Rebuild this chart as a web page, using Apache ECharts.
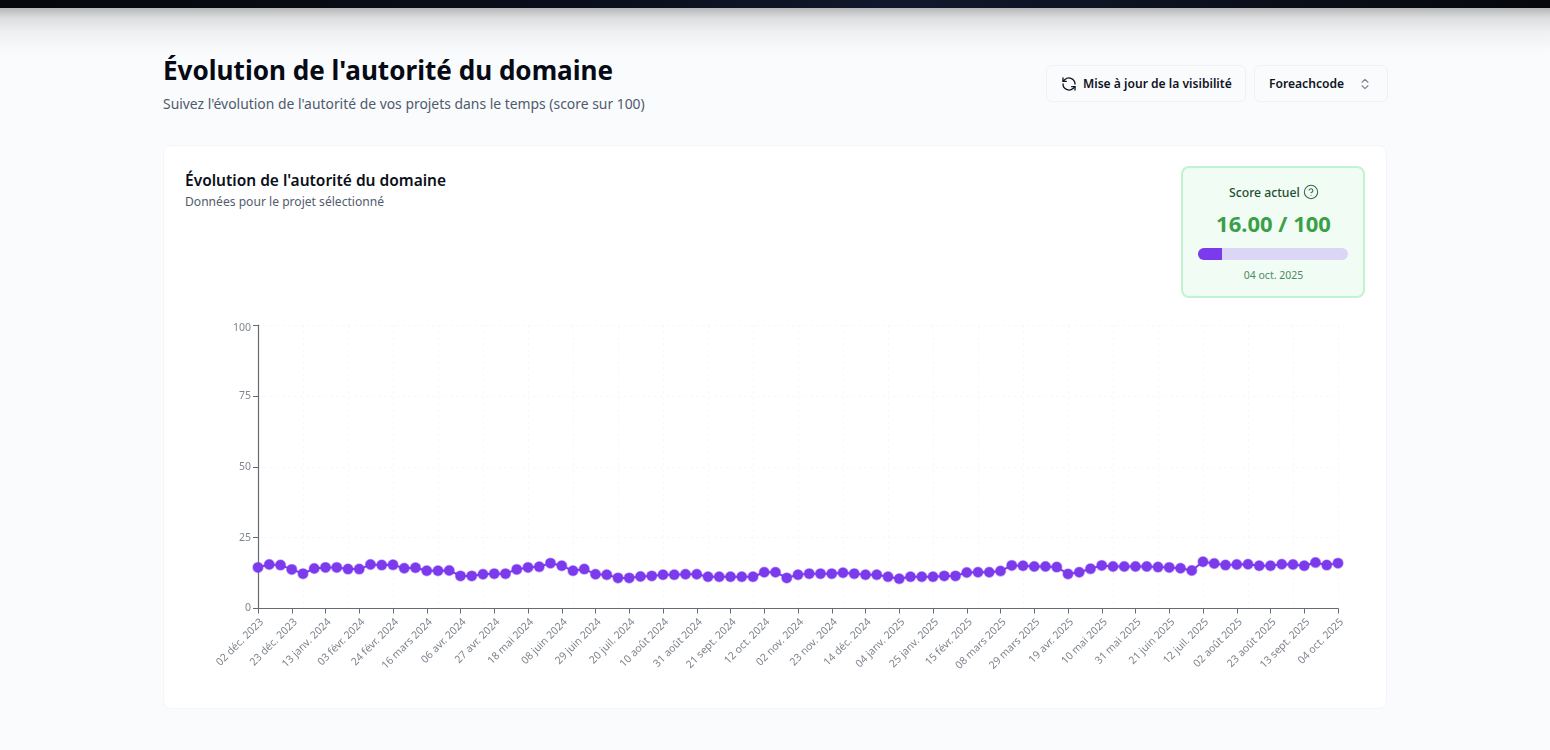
<!DOCTYPE html>
<html lang="fr">
<head>
<meta charset="utf-8">
<title>Évolution de l'autorité du domaine</title>
<script src="https://cdn.jsdelivr.net/npm/echarts@6/dist/echarts.min.js"></script>
<style>
  html, body { margin: 0; padding: 0; width: 1550px; height: 750px; overflow: hidden; background: #f9fbfd; font-family: "Noto Sans", sans-serif; color: #0b0f19; }
  body { position: relative; }
  .abs { position: absolute; white-space: nowrap; }
  #navbar { left: 0; top: 0; width: 1550px; height: 8px; background: linear-gradient(90deg, #05070c 0%, #0a0f1c 40%, #10192c 58%, #05070c 100%); }
  #navshadow { left: 0; top: 8px; width: 1550px; height: 46px; background: linear-gradient(180deg, #b4b6b8 0%, #dcdee0 22%, #eff1f3 55%, #f9fbfd 100%); }
  #pagetitle { left: 163px; top: 51px; font-size: 26.1px; font-weight: 700; line-height: 38px; color: #060a14; }
  #pagesub { left: 163px; top: 94px; font-size: 13.9px; line-height: 20px; color: #4f5a6b; }
  .btn { background: #fafbfd; border: 1px solid #eff1f5; border-radius: 6px; box-sizing: border-box; height: 37px; top: 65px; font-size: 12.1px; font-weight: 600; line-height: 36px; color: #10141e; }
  #refresh { left: 1046px; width: 200px; }
  #refresh span { position: absolute; left: 36px; }
  #refresh svg { position: absolute; left: 14px; top: 10px; }
  #project { left: 1254px; width: 134px; }
  #project span { position: absolute; left: 14px; }
  #project svg { position: absolute; left: 103px; top: 11px; }
  #card { left: 163px; top: 145px; width: 1224px; height: 564px; box-sizing: border-box; background: #fff; border: 1px solid #f3f5f8; border-radius: 8px; }
  #cardtitle { left: 185px; top: 169px; font-size: 15.5px; font-weight: 600; line-height: 22px; color: #0b0f19; }
  #cardsub { left: 185px; top: 193px; font-size: 12.1px; line-height: 18px; color: #525c6b; }
  #scorebox { left: 1181px; top: 166px; width: 184px; height: 132px; box-sizing: border-box; background: #f1fcf4; border: 2px solid #c2f3d0; border-radius: 8px; }
  #scorelabel { left: 1229px; top: 184px; font-size: 12.2px; font-weight: 500; line-height: 18px; color: #1d4f31; }
  #scorehelp { left: 1303px; top: 184px; }
  #scorevalue { left: 1182px; width: 183px; top: 208px; text-align: center; font-size: 22px; font-weight: 700; line-height: 30px; color: #39a048; }
  #scoretrack { left: 1198px; top: 248px; width: 150px; height: 12px; border-radius: 6px; background: #dcd6f6; overflow: hidden; }
  #scorefill { height: 100%; background: #7c3aed; }
  #scoredate { left: 1182px; width: 183px; top: 267px; text-align: center; font-size: 10.5px; line-height: 16px; color: #4c8a62; }
  #chart { left: 200px; top: 310px; width: 1170px; height: 390px; }
</style>
</head>
<body>
<div class="abs" id="navbar"></div>
<div class="abs" id="navshadow"></div>
<div class="abs" id="pagetitle">Évolution de l'autorité du domaine</div>
<div class="abs" id="pagesub">Suivez l'évolution de l'autorité de vos projets dans le temps (score sur 100)</div>
<div class="abs btn" id="refresh">
  <svg width="16" height="16" viewBox="0 0 24 24" fill="none" stroke="#10141e" stroke-width="2" stroke-linecap="round" stroke-linejoin="round"><path d="M21 12a9 9 0 0 0-15-6.7L3 8"/><path d="M3 3v5h5"/><path d="M3 12a9 9 0 0 0 15 6.7l3-2.7"/><path d="M16 16h5v5"/></svg>
  <span>Mise à jour de la visibilité</span>
</div>
<div class="abs btn" id="project">
  <span>Foreachcode</span>
  <svg width="14" height="14" viewBox="0 0 24 24" fill="none" stroke="#7d8490" stroke-width="2" stroke-linecap="round" stroke-linejoin="round"><path d="m7 15 5 5 5-5"/><path d="m7 9 5-5 5 5"/></svg>
</div>
<div class="abs" id="card"></div>
<div class="abs" id="cardtitle">Évolution de l'autorité du domaine</div>
<div class="abs" id="cardsub">Données pour le projet sélectionné</div>
<div class="abs" id="scorebox"></div>
<div class="abs" id="scorelabel">Score actuel</div>
<svg class="abs" id="scorehelp" width="16" height="16" viewBox="0 0 24 24" fill="none" stroke="#3a6a4c" stroke-width="1.6" stroke-linecap="round" stroke-linejoin="round"><circle cx="12" cy="12" r="10"/><path d="M9.1 9a3 3 0 0 1 5.8 1c0 2-3 3-3 3"/><path d="M12 17h.01"/></svg>
<div class="abs" id="scorevalue"></div>
<div class="abs" id="scoretrack"><div id="scorefill"></div></div>
<div class="abs" id="scoredate"></div>
<div class="abs" id="chart"></div>

<script>
// Relevés hebdomadaires du score d'autorité
const weekLabels = [
  "02 déc. 2023","09 déc. 2023","16 déc. 2023","23 déc. 2023","30 déc. 2023",
  "06 janv. 2024","13 janv. 2024","20 janv. 2024","27 janv. 2024",
  "03 févr. 2024","10 févr. 2024","17 févr. 2024","24 févr. 2024",
  "02 mars 2024","09 mars 2024","16 mars 2024","23 mars 2024","30 mars 2024",
  "06 avr. 2024","13 avr. 2024","20 avr. 2024","27 avr. 2024",
  "04 mai 2024","11 mai 2024","18 mai 2024","25 mai 2024",
  "01 juin 2024","08 juin 2024","15 juin 2024","22 juin 2024","29 juin 2024",
  "06 juil. 2024","13 juil. 2024","20 juil. 2024","27 juil. 2024",
  "03 août 2024","10 août 2024","17 août 2024","24 août 2024","31 août 2024",
  "07 sept. 2024","14 sept. 2024","21 sept. 2024","28 sept. 2024",
  "05 oct. 2024","12 oct. 2024","19 oct. 2024","26 oct. 2024",
  "02 nov. 2024","09 nov. 2024","16 nov. 2024","23 nov. 2024","30 nov. 2024",
  "07 déc. 2024","14 déc. 2024","21 déc. 2024","28 déc. 2024",
  "04 janv. 2025","11 janv. 2025","18 janv. 2025","25 janv. 2025",
  "01 févr. 2025","08 févr. 2025","15 févr. 2025","22 févr. 2025",
  "01 mars 2025","08 mars 2025","15 mars 2025","22 mars 2025","29 mars 2025",
  "05 avr. 2025","12 avr. 2025","19 avr. 2025","26 avr. 2025",
  "03 mai 2025","10 mai 2025","17 mai 2025","24 mai 2025","31 mai 2025",
  "07 juin 2025","14 juin 2025","21 juin 2025","28 juin 2025",
  "05 juil. 2025","12 juil. 2025","19 juil. 2025","26 juil. 2025",
  "02 août 2025","09 août 2025","16 août 2025","23 août 2025","30 août 2025",
  "06 sept. 2025","13 sept. 2025","20 sept. 2025","27 sept. 2025",
  "04 oct. 2025"
];

const authorityScores = [
  14.5,15.5,15.3,13.8,12.3,14.1,14.5,14.5,13.9,13.9,
  15.5,15.3,15.4,14.2,14.4,13.3,13.3,13.4,11.5,11.5,
  12.1,12.3,12.3,13.8,14.5,14.7,16.0,15.1,13.3,13.9,
  12.1,11.9,10.8,10.8,11.3,11.5,11.9,11.9,12.1,12.1,
  11.2,11.2,11.2,11.2,11.2,12.8,12.8,10.8,11.9,12.3,
  12.3,12.3,12.6,12.3,11.9,11.9,11.2,10.5,11.2,11.2,
  11.2,11.5,11.5,12.7,12.8,12.8,13.2,15.2,15.1,14.8,
  14.8,14.6,12.2,12.8,14.0,15.2,14.8,14.8,14.8,14.8,
  14.6,14.5,14.2,13.4,16.5,15.9,15.3,15.5,15.6,15.1,
  15.1,15.6,15.5,15.1,16.2,15.3,16.0
];

const scoreTicks = [0, 25, 50, 75, 100];
const scoreMax = scoreTicks[scoreTicks.length - 1];
const accent = "#7c3aed";
const axisGrey = "#666b73";
const labelGrey = "#7f858e";
const gridDash = { color: "#f7f8fa", width: 1, type: [3, 3] };

// Carte « Score actuel » : dernière valeur de la série
const latestScore = authorityScores[authorityScores.length - 1];
document.getElementById("scorevalue").textContent = latestScore.toFixed(2) + " / " + scoreMax;
document.getElementById("scorefill").style.width = (latestScore / scoreMax * 100) + "%";
document.getElementById("scoredate").textContent = weekLabels[weekLabels.length - 1];

const chart = echarts.init(document.getElementById("chart"), null, { renderer: "canvas" });
chart.setOption({
  animation: false,
  grid: { left: 58, right: 32, top: 15, bottom: 91.5 },
  xAxis: {
    type: "category",
    data: weekLabels,
    boundaryGap: false,
    axisLine: { lineStyle: { color: axisGrey, width: 1.2 } },
    axisTick: { show: true, length: 5, interval: 2, alignWithLabel: true, lineStyle: { color: axisGrey } },
    axisLabel: {
      interval: 2, rotate: 45, margin: 8, verticalAlign: "top", color: labelGrey,
      fontSize: 10.5, fontFamily: "Noto Sans", hideOverlap: false
    },
    splitLine: { show: true, interval: (i) => i % 4 === 0, lineStyle: gridDash }
  },
  yAxis: {
    type: "value",
    min: 0,
    max: scoreMax,
    interval: 25,
    axisLine: { show: true, lineStyle: { color: axisGrey, width: 1.2 } },
    axisTick: { show: true, length: 5, lineStyle: { color: axisGrey } },
    axisLabel: {
      margin: 7, color: labelGrey, fontSize: 10.5, fontFamily: "Noto Sans",
      // le libellé du haut descend sous sa graduation
      formatter: (v) => v === scoreMax ? "{top|" + v + "}" : String(v),
      rich: { top: { padding: [6, 0, 0, 0], color: labelGrey, fontSize: 10.5, fontFamily: "Noto Sans" } }
    },
    splitLine: { show: true, lineStyle: gridDash }
  },
  series: [{
    type: "line",
    data: authorityScores,
    symbol: "circle",
    symbolSize: 10,
    showAllSymbol: true,
    clip: false,
    lineStyle: { color: accent, width: 2 },
    itemStyle: { color: accent, borderColor: "rgba(124,58,237,0.45)", borderWidth: 1.5 }
  }]
});
</script>
</body>
</html>
